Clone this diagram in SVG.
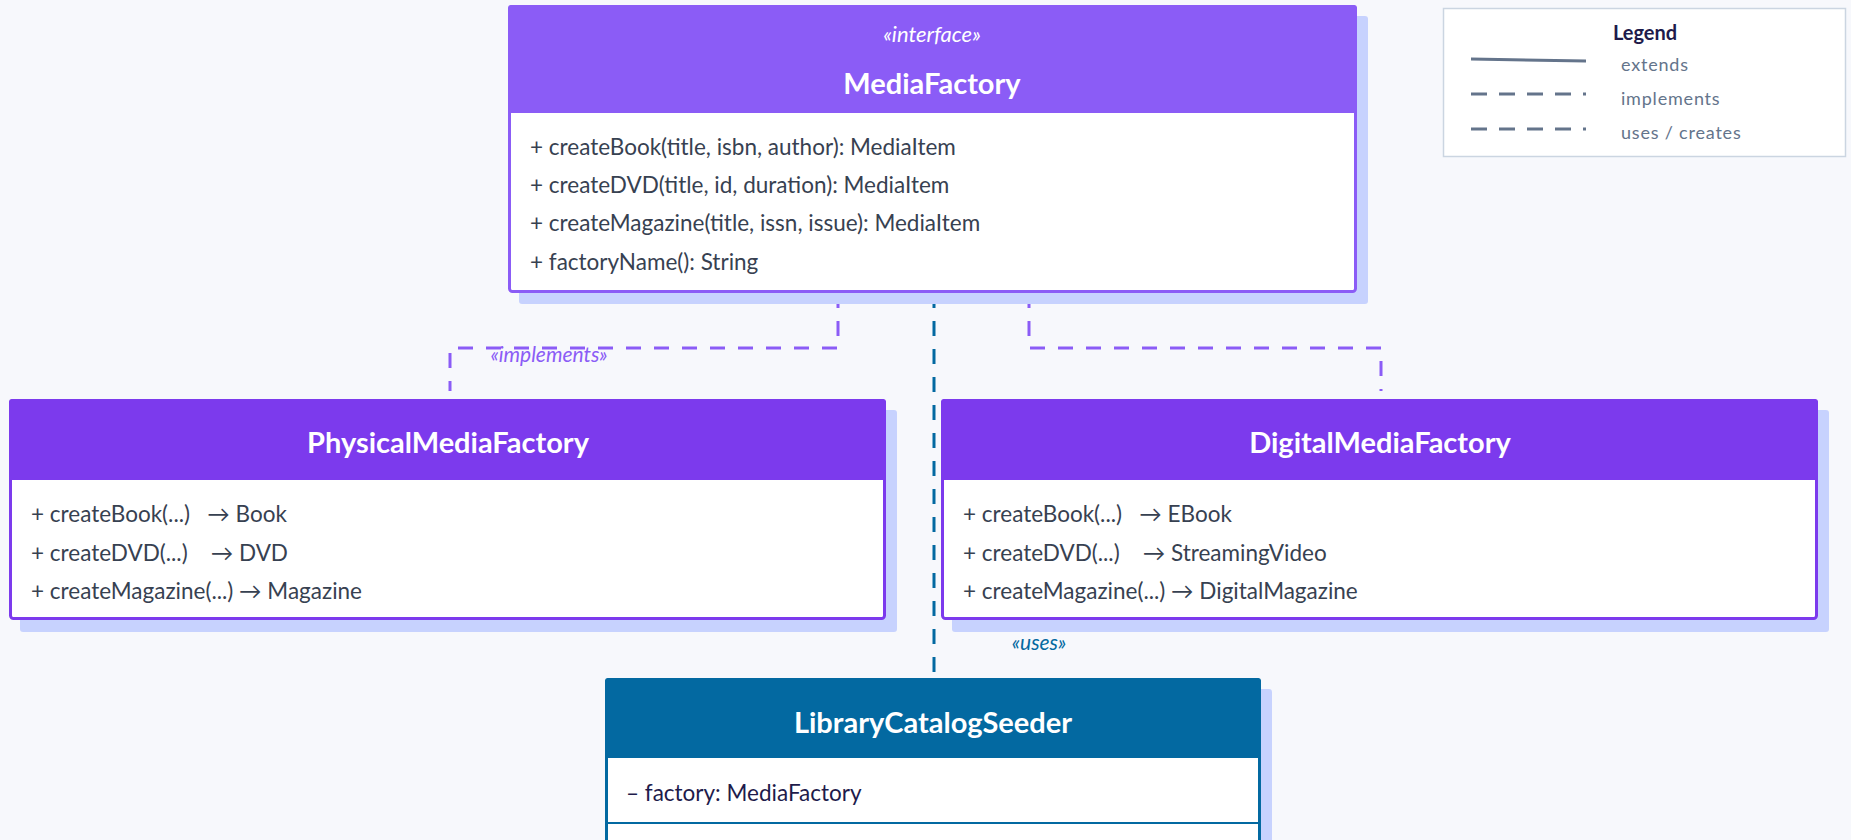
<svg xmlns="http://www.w3.org/2000/svg" width="1851" height="840" viewBox="0 0 1851 840">
<defs>
<style>
.bg{fill:#F7F8FC}
.shadow{fill:#C7D2FE}
.body{fill:#FFFFFF;stroke-width:3}
.title{font-family:"Lato","Liberation Sans",sans-serif;font-weight:bold;font-size:29px;fill:#FFFFFF;text-anchor:middle}
.stereo{font-family:"Lato","Liberation Sans",sans-serif;font-style:italic;font-size:22px;fill:#FFFFFF;text-anchor:middle}
.member{font-family:"Lato","Liberation Sans",sans-serif;font-size:22.5px;fill:#374151;white-space:pre}
.field{font-family:"Lato","Liberation Sans",sans-serif;font-size:22.5px;fill:#1E1B4B}
.conn-impl{fill:none;stroke:#8B5CF6;stroke-width:3;stroke-dasharray:15 13}
.conn-use{fill:none;stroke:#0369A1;stroke-width:3;stroke-dasharray:15 13}
.lbl{font-family:"Lato","Liberation Sans",sans-serif;font-style:italic;font-size:21px;text-anchor:middle}
.leg-title{font-family:"Lato","Liberation Sans",sans-serif;font-weight:bold;font-size:20px;fill:#1E1B4B;text-anchor:middle}
.leg-text{font-family:"Lato","Liberation Sans",sans-serif;font-size:18px;fill:#64748B;letter-spacing:0.8px}
.leg-line{fill:none;stroke:#64748B;stroke-width:3}
</style>
</defs>
<rect class="bg" x="0" y="0" width="1851" height="840"/>

<g id="connectors">
<path class="conn-impl" d="M838 293 V348 H450 V391"/>
<path class="conn-impl" d="M1029 293 V348 H1381 V391"/>
<path class="conn-use" d="M934 293 V678"/>
<text class="lbl" x="549" y="362" fill="#8B5CF6">«implements»</text>
<text class="lbl" x="1039" y="650" fill="#0369A1">«uses»</text>
</g>

<g id="MediaFactory">
<rect class="shadow" x="519" y="16" width="849" height="288" rx="3"/>
<rect class="body" x="509.5" y="6.5" width="846" height="285" rx="3" stroke="#8B5CF6"/>
<path d="M508 113 V8 Q508 5 511 5 H1354 Q1357 5 1357 8 V113 Z" fill="#8B5CF6"/>
<text class="stereo" x="932" y="42">«interface»</text>
<text class="title" x="932" y="94">MediaFactory</text>
<text class="member" x="530" y="155">+ createBook(title, isbn, author): MediaItem</text>
<text class="member" x="530" y="193">+ createDVD(title, id, duration): MediaItem</text>
<text class="member" x="530" y="231">+ createMagazine(title, issn, issue): MediaItem</text>
<text class="member" x="530" y="270">+ factoryName(): String</text>
</g>

<g id="PhysicalMediaFactory">
<rect class="shadow" x="20" y="410" width="877" height="222" rx="3"/>
<rect class="body" x="10.5" y="400.5" width="874" height="218" rx="3" stroke="#7C3AED"/>
<path d="M9 480 V402 Q9 399 12 399 H883 Q886 399 886 402 V480 Z" fill="#7C3AED"/>
<text class="title" x="448" y="453">PhysicalMediaFactory</text>
<text class="member" x="31" y="522">+ createBook(...)   → Book</text>
<text class="member" x="31" y="561">+ createDVD(...)    → DVD</text>
<text class="member" x="31" y="599">+ createMagazine(...) → Magazine</text>
</g>

<g id="DigitalMediaFactory">
<rect class="shadow" x="952" y="410" width="877" height="222" rx="3"/>
<rect class="body" x="942.5" y="400.5" width="874" height="218" rx="3" stroke="#7C3AED"/>
<path d="M941 480 V402 Q941 399 944 399 H1815 Q1818 399 1818 402 V480 Z" fill="#7C3AED"/>
<text class="title" x="1380" y="453">DigitalMediaFactory</text>
<text class="member" x="963" y="522">+ createBook(...)   → EBook</text>
<text class="member" x="963" y="561">+ createDVD(...)    → StreamingVideo</text>
<text class="member" x="963" y="599">+ createMagazine(...) → DigitalMagazine</text>
</g>

<g id="LibraryCatalogSeeder">
<rect class="shadow" x="616" y="689" width="656" height="260" rx="3"/>
<rect class="body" x="606.5" y="679.5" width="653" height="250" rx="3" stroke="#0369A1"/>
<path d="M605 758 V681 Q605 678 608 678 H1258 Q1261 678 1261 681 V758 Z" fill="#0369A1"/>
<text class="title" x="933" y="733">LibraryCatalogSeeder</text>
<text class="field" x="626" y="801">– factory: MediaFactory</text>
<line x1="606" y1="823" x2="1260" y2="823" stroke="#0369A1" stroke-width="2"/>
</g>

<g id="legend">
<rect x="1443.5" y="8.5" width="402" height="148" fill="#FFFFFF" stroke="#CBD5E1" stroke-width="1.5"/>
<text class="leg-title" x="1645" y="40">Legend</text>
<line class="leg-line" x1="1471" y1="59" x2="1586" y2="61"/>
<line class="leg-line" x1="1471" y1="94" x2="1586" y2="94" stroke-dasharray="16 12"/>
<line class="leg-line" x1="1471" y1="129" x2="1586" y2="129" stroke-dasharray="16 12"/>
<text class="leg-text" x="1621" y="71">extends</text>
<text class="leg-text" x="1621" y="105">implements</text>
<text class="leg-text" x="1621" y="139">uses / creates</text>
</g>
</svg>
